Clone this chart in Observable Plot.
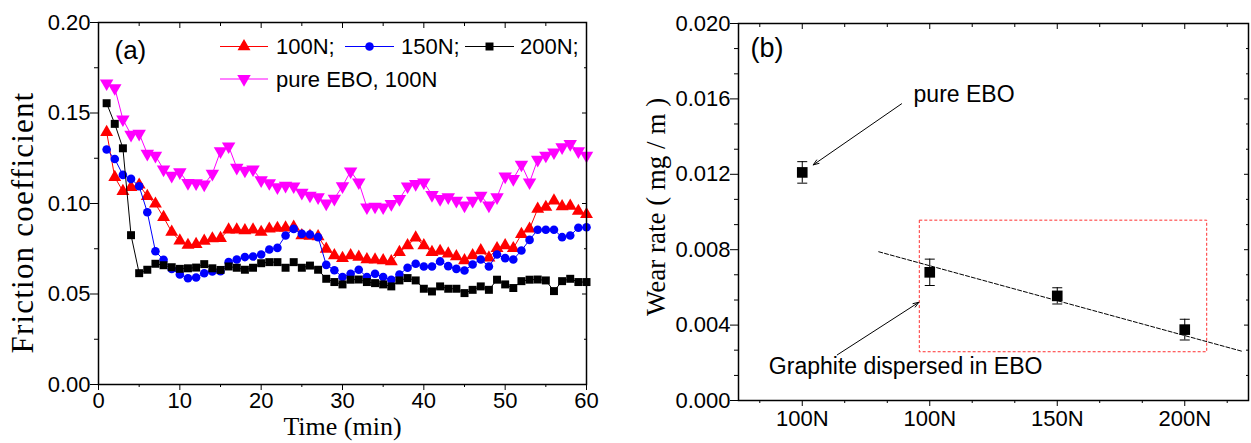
<!DOCTYPE html>
<html><head><meta charset="utf-8">
<script src="https://cdn.jsdelivr.net/npm/d3@7"></script>
<script src="https://cdn.jsdelivr.net/npm/@observablehq/plot@0.6"></script>
<style>
body{margin:0;background:#fff;}
#wrap{display:flex;width:1251px;height:443px;}
#wrap svg{display:block;}
</style></head><body><div id="wrap"></div>
<script>
// ---------- Panel (a): friction coefficient vs time ----------
const time = [1,2,3,4,5,6,7,8,9,10,11,12,13,14,15,16,17,18,19,20,21,22,23,24,25,26,27,28,29,30,
  31,32,33,34,35,36,37,38,39,40,41,42,43,44,45,46,47,48,49,50,51,52,53,54,55,56,57,58,59,60];
const f100N = [0.1394,0.1145,0.1068,0.1090,0.1103,0.1040,0.0998,0.0924,0.0843,0.0794,
  0.0770,0.0775,0.0793,0.0806,0.0808,0.0855,0.0855,0.0851,0.0855,0.0842,
  0.0860,0.0864,0.0866,0.0870,0.0823,0.0820,0.0818,0.0749,0.0713,0.0698,
  0.0713,0.0704,0.0691,0.0689,0.0685,0.0680,0.0731,0.0768,0.0811,0.0768,
  0.0731,0.0737,0.0722,0.0707,0.0685,0.0713,0.0740,0.0700,0.0752,0.0768,
  0.0752,0.0830,0.0860,0.0970,0.0980,0.1015,0.0983,0.0986,0.0958,0.0940];
const f150N = [0.1298,0.1246,0.1158,0.1136,0.1095,0.0952,0.0736,0.0689,0.0638,0.0608,
  0.0587,0.0591,0.0615,0.0624,0.0626,0.0676,0.0691,0.0704,0.0707,0.0718,
  0.0746,0.0755,0.0823,0.0860,0.0832,0.0829,0.0814,0.0661,0.0631,0.0594,
  0.0612,0.0634,0.0594,0.0612,0.0594,0.0579,0.0608,0.0645,0.0667,0.0652,
  0.0652,0.0680,0.0654,0.0639,0.0630,0.0663,0.0691,0.0652,0.0718,0.0698,
  0.0691,0.0740,0.0799,0.0855,0.0855,0.0855,0.0814,0.0823,0.0866,0.0869];
const f200N = [0.1554,0.1440,0.1305,0.0825,0.0615,0.0634,0.0667,0.0659,0.0648,0.0639,
  0.0642,0.0646,0.0665,0.0642,0.0633,0.0652,0.0645,0.0634,0.0645,0.0670,
  0.0676,0.0676,0.0645,0.0676,0.0645,0.0657,0.0634,0.0584,0.0566,0.0553,
  0.0579,0.0580,0.0566,0.0560,0.0553,0.0542,0.0575,0.0588,0.0575,0.0529,
  0.0514,0.0542,0.0529,0.0529,0.0505,0.0523,0.0542,0.0523,0.0579,0.0553,
  0.0533,0.0571,0.0579,0.0580,0.0575,0.0516,0.0571,0.0584,0.0566,0.0566];
const fPureEBO = [0.1664,0.1638,0.1465,0.1380,0.1386,0.1275,0.1264,0.1188,0.1154,0.1173,
  0.1114,0.1112,0.1105,0.1165,0.1289,0.1316,0.1198,0.1182,0.1189,0.1129,
  0.1113,0.1090,0.1098,0.1095,0.1060,0.1044,0.1035,0.1000,0.1027,0.1096,
  0.1178,0.1117,0.0979,0.0983,0.0979,0.0998,0.1025,0.1095,0.1108,0.1117,
  0.1047,0.1025,0.1035,0.1016,0.0989,0.1016,0.1044,0.0989,0.1035,0.1150,
  0.1136,0.1215,0.1117,0.1242,0.1265,0.1283,0.1311,0.1329,0.1289,0.1265];
const seriesNames = ["100N;", "150N;", "200N;", "pure EBO, 100N"];
const seriesValues = [f100N, f150N, f200N, fPureEBO];
const seriesColors = ["#ff0000", "#0000ff", "#000000", "#ff00ff"];
const seriesSymbols = ["triangle", "circle", "square", "triangle"];
const seriesRotate = [0, 0, 0, 180];
const seriesR = [4.8, 4.3, 4.5, 5.0];

const frictionTicks = [0, 0.05, 0.10, 0.15, 0.20];
const frictionMinor = [0.025, 0.075, 0.125, 0.175];
const timeTicks = [0, 10, 20, 30, 40, 50, 60];
const timeMinor = [5, 15, 25, 35, 45, 55];

// ---------- Panel (b): wear rate ----------
const wearLabels = ["100N", "100N", "150N", "200N"];
const wearPos = [1, 2, 3, 4];
const wearRate = [0.0121, 0.0068, 0.00555, 0.00376];
const wearErr = [0.00057, 0.0007, 0.00043, 0.00055];
const wearTicks = [0, 0.004, 0.008, 0.012, 0.016, 0.020];
const wearMinor = [0.00133, 0.00267, 0.00533, 0.00667, 0.00933, 0.01067, 0.01333, 0.01467, 0.01733, 0.01867];
const loadMinor = [0.667, 1.333, 1.667, 2.333, 2.667, 3.333, 3.667, 4.333];
const trendX = [1.6, 4.45];
const trendY = [0.00789, 0.00261];
const boxX = [1.922, 4.176];
const boxY = [0.00256, 0.00954];
const noteText = ["pure EBO", "Graphite dispersed in EBO"];
const noteX = [1.873, 0.738];
const noteY = [0.01624, 0.0018];
const arrowFromX = [1.779, 1.2745];
const arrowFromY = [0.01574, 0.00242];
const arrowToX = [1.086, 1.9145];
const arrowToY = [0.0125, 0.00521];

const SANS = "'Liberation Sans', Arial, Helvetica, sans-serif";
const SERIF = "'Liberation Serif', 'Times New Roman', serif";

// ---------- Build panel (a) ----------
const rows = [];
seriesValues.forEach((vals, i) => vals.forEach((v, j) => rows.push({i, t: time[j], v})));

const seriesMarks = [];
seriesNames.forEach((name, i) => {
  const d = rows.filter(r => r.i === i);
  seriesMarks.push(Plot.line(d, {x: "t", y: "v", stroke: seriesColors[i], strokeWidth: 1}));
  seriesMarks.push(Plot.dot(d, {x: "t", y: "v", symbol: seriesSymbols[i], r: seriesR[i],
    fill: seriesColors[i], stroke: "none", rotate: seriesRotate[i]}));
});

const left = Plot.plot({
  width: 620, height: 443,
  marginLeft: 98, marginRight: 34, marginTop: 22, marginBottom: 59,
  x: {domain: [0, 60]},
  y: {domain: [0, 0.2]},
  style: {fontFamily: SANS, fontSize: "22px", color: "#000", background: "transparent", overflow: "visible"},
  marks: [
    Plot.axisX({ticks: timeTicks, tickSize: 6, tickPadding: 2, label: null, tickFormat: d => String(d)}),
    Plot.axisX({ticks: timeMinor, tickSize: 3, fill: null, label: null}),
    Plot.axisX({anchor: "top", ticks: timeTicks, tickSize: -5, fill: null, label: null}),
    Plot.axisX({anchor: "top", ticks: timeMinor, tickSize: -3, fill: null, label: null}),
    Plot.axisY({ticks: frictionTicks, tickSize: 8, tickPadding: 0, label: null, tickFormat: d3.format(".2f")}),
    Plot.axisY({ticks: frictionMinor, tickSize: 4, fill: null, label: null}),
    Plot.axisY({anchor: "right", ticks: frictionTicks, tickSize: -5, fill: null, label: null}),
    Plot.axisY({anchor: "right", ticks: frictionMinor, tickSize: -3, fill: null, label: null}),
    ...seriesMarks,
    Plot.frame({stroke: "#000", strokeWidth: 1.5}),
    Plot.text(["(a)"], {frameAnchor: "top-left", dx: 16, dy: 28, textAnchor: "start", lineAnchor: "middle", fontSize: 26}),
    Plot.text(["Friction coefficient"], {frameAnchor: "left", dx: -75, dy: 19, rotate: -90,
      textAnchor: "middle", lineAnchor: "middle", fontFamily: SERIF, fontSize: 31}),
    Plot.text(["Time (min)"], {frameAnchor: "bottom", dy: 42, textAnchor: "middle", lineAnchor: "middle",
      fontFamily: SERIF, fontSize: 26})
  ]
});

// widen the rotated serif title slightly, as in the original figure
d3.select(left).selectAll("text")
  .filter(function () { return this.textContent === "Friction coefficient"; })
  .attr("letter-spacing", "1.2px");

// legend (inside panel a)
const legendLayout = [
  {x0: 220, x1: 268, y: 46.5, tx: 276},
  {x0: 345, x1: 394, y: 46.5, tx: 401},
  {x0: 465, x1: 514, y: 46.5, tx: 520},
  {x0: 220, x1: 268, y: 79, tx: 276}
];
const lg = d3.select(left).append("g").attr("class", "legend").attr("text-anchor", "start");
const symMap = {triangle: d3.symbolTriangle, circle: d3.symbolCircle, square: d3.symbolSquare};
seriesNames.forEach((name, i) => {
  const L = legendLayout[i];
  lg.append("line").attr("x1", L.x0).attr("x2", L.x1).attr("y1", L.y).attr("y2", L.y)
    .attr("stroke", seriesColors[i]).attr("stroke-width", 1);
  const cx = (L.x0 + L.x1) / 2;
  lg.append("path").attr("d", d3.symbol(symMap[seriesSymbols[i]], Math.PI * seriesR[i] * seriesR[i])())
    .attr("transform", `translate(${cx},${L.y}) rotate(${seriesRotate[i]})`)
    .attr("fill", seriesColors[i]);
  lg.append("text").attr("x", L.tx).attr("y", L.y).attr("dy", "0.35em")
    .attr("text-anchor", "start")
    .attr("font-family", SANS).attr("font-size", 22).attr("fill", "#000").text(name);
});

// ---------- Build panel (b) ----------
const wearRows = wearPos.map((x, i) => ({x, y: wearRate[i], e: wearErr[i]}));
const trend = trendX.map((x, i) => ({x, y: trendY[i]}));
const box = [{x1: boxX[0], x2: boxX[1], y1: boxY[0], y2: boxY[1]}];
const notes = noteText.map((t, i) => ({t, x: noteX[i], y: noteY[i]}));
const arrows = arrowFromX.map((x, i) => ({x1: x, y1: arrowFromY[i], x2: arrowToX[i], y2: arrowToY[i]}));
const capSymbol = {draw(ctx, size) { ctx.moveTo(-5, 0); ctx.lineTo(5, 0); }};

const right = Plot.plot({
  width: 631, height: 443,
  marginLeft: 118, marginRight: 3, marginTop: 23, marginBottom: 43,
  x: {domain: [0.5, 4.5]},
  y: {domain: [0, 0.02]},
  style: {fontFamily: SANS, fontSize: "22px", color: "#000", background: "transparent", overflow: "visible"},
  marks: [
    Plot.axisX({ticks: wearPos, tickSize: 6, tickPadding: 4, label: null, tickFormat: d => wearLabels[wearPos.indexOf(d)]}),
    Plot.axisX({ticks: loadMinor, tickSize: 3, fill: null, label: null}),
    Plot.axisX({anchor: "top", ticks: wearPos, tickSize: -5, fill: null, label: null}),
    Plot.axisX({anchor: "top", ticks: loadMinor, tickSize: -3, fill: null, label: null}),
    Plot.axisY({ticks: wearTicks, tickSize: 8, tickPadding: 0, label: null, tickFormat: d3.format(".3f")}),
    Plot.axisY({ticks: wearMinor, tickSize: 4, fill: null, label: null}),
    Plot.axisY({anchor: "right", ticks: wearTicks, tickSize: -5, fill: null, label: null}),
    Plot.axisY({anchor: "right", ticks: wearMinor, tickSize: -3, fill: null, label: null}),
    Plot.rect(box, {x1: "x1", x2: "x2", y1: "y1", y2: "y2", fill: "none", stroke: "#ff3030", strokeWidth: 1, strokeDasharray: "3,2"}),
    Plot.line(trend, {x: "x", y: "y", stroke: "#000", strokeWidth: 1, strokeDasharray: "4,2"}),
    Plot.ruleX(wearRows, {x: "x", y1: d => d.y - d.e, y2: d => d.y + d.e, stroke: "#000", strokeWidth: 1}),
    Plot.dot(wearRows, {x: "x", y: d => d.y + d.e, symbol: capSymbol, r: 1, stroke: "#000", fill: "none", strokeWidth: 1}),
    Plot.dot(wearRows, {x: "x", y: d => d.y - d.e, symbol: capSymbol, r: 1, stroke: "#000", fill: "none", strokeWidth: 1}),
    Plot.dot(wearRows, {x: "x", y: "y", symbol: "square", r: 6, fill: "#000", stroke: "none"}),
    Plot.arrow(arrows, {x1: "x1", y1: "y1", x2: "x2", y2: "y2", stroke: "#000", strokeWidth: 1, headLength: 9, headAngle: 40}),
    Plot.text(notes, {x: "x", y: "y", text: "t", textAnchor: "start", lineAnchor: "middle", fontSize: 23}),
    Plot.frame({stroke: "#000", strokeWidth: 1.5}),
    Plot.text(["(b)"], {frameAnchor: "top-left", dx: 12, dy: 25, textAnchor: "start", lineAnchor: "middle", fontSize: 27}),
    Plot.text(["Wear rate ( mg / m )"], {frameAnchor: "left", dx: -82.5, dy: -5, rotate: -90,
      textAnchor: "middle", lineAnchor: "middle", fontFamily: SERIF, fontSize: 27})
  ]
});

document.getElementById("wrap").append(left, right);
</script></body></html>
